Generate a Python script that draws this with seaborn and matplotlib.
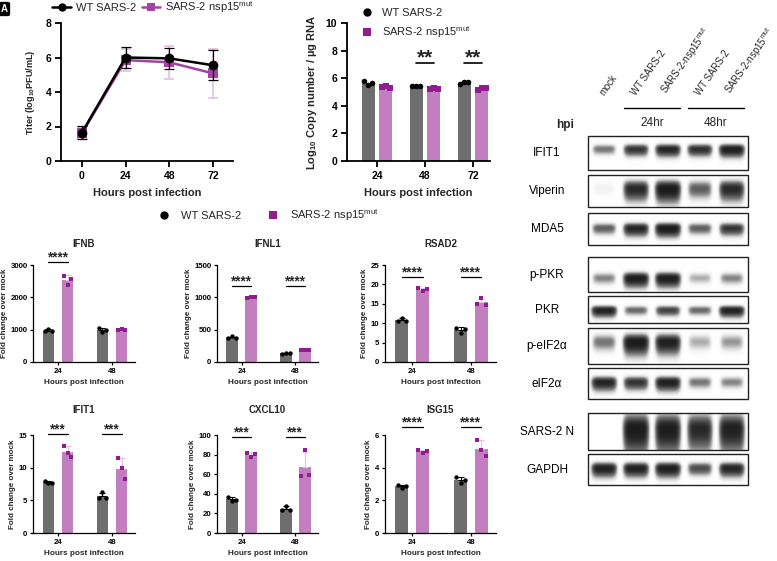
import numpy as np
import pandas as pd
import matplotlib
matplotlib.use("Agg")
import matplotlib.pyplot as plt
from matplotlib.lines import Line2D
from matplotlib.patches import Rectangle
import seaborn as sns

# ---------------- data ----------------
titer_hours = [0, 24, 48, 72]
titer_wt = [1.65, 6.0, 5.95, 5.55]
titer_wt_sd = [0.38, 0.6, 0.6, 0.87]
titer_mut = [1.6, 5.85, 5.72, 5.08]
titer_mut_sd = [0.3, 0.62, 0.97, 1.4]

cn_hours = ["24", "48", "72"]
cn_wt = [[5.8, 5.5, 5.65], [5.4, 5.45, 5.45], [5.55, 5.7, 5.75]]
cn_mut = [[5.35, 5.4, 5.3], [5.25, 5.3, 5.25], [5.15, 5.3, 5.3]]
cn_sig_hours = ["48", "72"]

gene_hours = ["24", "48"]
genes = ["IFNB", "IFNL1", "RSAD2", "IFIT1", "CXCL10", "ISG15"]
IFNB_wt = [[950, 1020, 950], [1040, 930, 990]]
IFNB_mut = [[2670, 2385, 2580], [990, 1030, 1000]]
IFNL1_wt = [[375, 395, 372], [130, 140, 138]]
IFNL1_mut = [[995, 1000, 998], [178, 182, 178]]
RSAD2_wt = [[10.5, 11.4, 10.6], [8.8, 7.4, 8.4]]
RSAD2_mut = [[19.0, 18.2, 18.8], [15.0, 16.4, 14.8]]
IFIT1_wt = [[7.9, 7.6, 7.7], [5.4, 6.2, 5.4]]
IFIT1_mut = [[13.3, 12.3, 11.7], [11.5, 9.9, 8.2]]
CXCL10_wt = [[37, 33, 34], [23, 28, 23]]
CXCL10_mut = [[82, 77.5, 80.5], [58, 85, 59]]
ISG15_wt = [[2.93, 2.75, 2.87], [3.45, 3.05, 3.25]]
ISG15_mut = [[5.1, 4.9, 5.0], [5.7, 5.1, 4.7]]
gene_ymax = [3000, 1500, 25, 15, 100, 6]
gene_ystep = [1000, 500, 5, 5, 20, 2]
gene_sig_y = [3100, 1180, 22, 15.2, 98, 6.5]
gene_stars = ["****", "****", "****", "***", "***", "****"]
gene_sig_hours = [["24"], ["24", "48"], ["24", "48"], ["24", "48"], ["24", "48"], ["24", "48"]]

blot_lanes = ["mock", "WT SARS-2", "SARS-2-nsp15$^{mut}$", "WT SARS-2", "SARS-2-nsp15$^{mut}$"]
blot_names = ["IFIT1", "Viperin", "MDA5", "p-PKR", "PKR", "p-eIF2\u03b1", "eIF2\u03b1", "SARS-2 N", "GAPDH"]
IFIT1_band = [0.35, 0.7, 0.85, 0.75, 0.95]
Viperin_band = [0.04, 0.8, 1.0, 0.45, 0.8]
MDA5_band = [0.45, 0.85, 1.0, 0.45, 0.7]
pPKR_band = [0.3, 0.95, 0.95, 0.2, 0.3]
PKR_band = [0.9, 0.4, 0.6, 0.4, 0.9]
peIF2a_band = [0.35, 1.0, 0.9, 0.2, 0.25]
eIF2a_band = [0.85, 0.7, 0.9, 0.35, 0.3]
N_band = [0.0, 1.0, 0.95, 0.8, 0.9]
GAPDH_band = [0.9, 0.9, 0.95, 0.55, 0.85]

# ---------------- style ----------------
sns.set_theme(style="ticks")
plt.rcParams["font.family"] = ["Liberation Sans", "DejaVu Sans"]
plt.rcParams["mathtext.default"] = "regular"

WT_BAR = "#6e6e6e"
MUT_BAR = "#c27fc0"
WT_PT = "#000000"
MUT_PT = "#901c90"
MUT_ERR = "#e6bde5"
MUT_LINE = "#a242a2"

W, H = 777, 561
fig = plt.figure(figsize=(W / 100, H / 100), dpi=100)


def rect(l, t, r, b):
    return [l / W, 1 - b / H, (r - l) / W, (b - t) / H]


def style_axes(ax, lw, tlen, tsize, pad):
    sns.despine(ax=ax)
    for s in ("left", "bottom"):
        ax.spines[s].set_linewidth(lw)
        ax.spines[s].set_color("black")
    ax.tick_params(axis="both", length=tlen, width=lw, labelsize=tsize, pad=pad,
                   color="black", labelcolor="black", direction="out")
    for lab in ax.get_xticklabels() + ax.get_yticklabels():
        lab.set_fontweight("bold")
    ax.set_facecolor("none")


# ---------------- panel: titer ----------------
ax1 = fig.add_axes(rect(61, 23, 233, 161))
df_t = pd.DataFrame({
    "hour": titer_hours * 2,
    "titer": titer_mut + titer_wt,
    "strain": ["mut"] * 4 + ["WT"] * 4,
})
ax1.errorbar(titer_hours, titer_mut, yerr=titer_mut_sd, fmt="none", ecolor=MUT_ERR,
             elinewidth=1.2, capsize=3.5, capthick=1.2, zorder=2)
sns.lineplot(data=df_t, x="hour", y="titer", hue="strain", style="strain",
             palette={"WT": "black", "mut": MUT_LINE}, markers={"WT": "o", "mut": "s"},
             dashes=False, markersize=7, linewidth=1.8, markeredgewidth=0,
             legend=False, ax=ax1, zorder=3)
ax1.errorbar(titer_hours, titer_wt, yerr=titer_wt_sd, fmt="none", ecolor="black",
             elinewidth=0.9, capsize=3.5, capthick=0.9, zorder=4)
ax1.set_xlim(-11.5, 83)
ax1.set_ylim(0, 8)
ax1.set_xticks(titer_hours)
ax1.set_yticks([0, 2, 4, 6, 8])
style_axes(ax1, 1.3, 4, 7.5, 3)
ax1.set_xlabel("Hours post infection", fontsize=8, fontweight="bold", labelpad=5)
ax1.set_ylabel("Titer (log$_{10}$PFU/mL)", fontsize=6.6, fontweight="bold", labelpad=6)
h1 = [Line2D([0], [0], color="black", marker="o", lw=1.8, ms=6, mew=0),
      Line2D([0], [0], color=MUT_LINE, marker="s", lw=1.8, ms=6, mew=0)]
ax1.legend(h1, ["WT SARS-2", "SARS-2 nsp15$^{mut}$"], loc="center left",
           bbox_to_anchor=(-0.05, 1.115), ncol=2, frameon=False, fontsize=8,
           handlelength=1.7, handletextpad=0.4, columnspacing=0.5, borderpad=0,
           borderaxespad=0)

# ---------------- panel: copy number ----------------
ax2 = fig.add_axes(rect(347, 23, 490, 161))
rows = []
for i, h in enumerate(cn_hours):
    for v in cn_wt[i]:
        rows.append((h, "WT", v))
    for v in cn_mut[i]:
        rows.append((h, "mut", v))
df_cn = pd.DataFrame(rows, columns=["hour", "strain", "value"])
sns.barplot(data=df_cn, x="hour", y="value", hue="strain", order=cn_hours,
            hue_order=["WT", "mut"], palette={"WT": WT_BAR, "mut": MUT_BAR},
            errorbar=None, width=0.72, gap=0.25, saturation=1, legend=False,
            linewidth=0, ax=ax2)
centers = {}
for k, (cont, reps, col, mk) in enumerate(zip(ax2.containers, [cn_wt, cn_mut],
                                              [WT_PT, MUT_PT], ["o", "s"])):
    for i, p in enumerate(cont.patches):
        cx = p.get_x() + p.get_width() / 2
        centers[(k, i)] = cx
        offs = np.array([-0.3, 0.0, 0.3]) * p.get_width()
        ax2.scatter(cx + offs, reps[i], marker=mk, s=16, color=col, linewidths=0, zorder=4)
for h in cn_sig_hours:
    i = cn_hours.index(h)
    x0, x1 = centers[(0, i)], centers[(1, i)]
    ax2.plot([x0, x1], [7.1, 7.1], color="black", lw=1.2, clip_on=False)
    ax2.text((x0 + x1) / 2, 7.05, "**", ha="center", va="baseline", fontsize=15,
             fontweight="bold")
ax2.set_xlim(-0.625, 2.354)
ax2.set_ylim(0, 10)
ax2.set_yticks([0, 2, 4, 6, 8, 10])
style_axes(ax2, 1.3, 4, 7.5, 3)
ax2.set_xlabel("Hours post infection", fontsize=8, fontweight="bold", labelpad=5)
ax2.set_ylabel("Log$_{10}$ Copy number / \u00b5g RNA", fontsize=8, fontweight="bold", labelpad=5)
h2 = [Line2D([0], [0], color="black", marker="o", lw=0, ms=6, mew=0),
      Line2D([0], [0], color=MUT_PT, marker="s", lw=0, ms=6, mew=0)]
ax2.legend(h2, ["WT SARS-2", "SARS-2 nsp15$^{mut}$"], loc="center left",
           bbox_to_anchor=(0.10, 0.993), frameon=False, fontsize=8, handlelength=1.0,
           handletextpad=0.85, labelspacing=0.62, borderpad=0, borderaxespad=0)

# ---------------- middle legend ----------------
hm = [Line2D([0], [0], color="black", marker="o", lw=0, ms=6, mew=0),
      Line2D([0], [0], color=MUT_PT, marker="s", lw=0, ms=6, mew=0)]
fig.legend(hm, ["WT SARS-2", "SARS-2 nsp15$^{mut}$"], loc="center left",
           bbox_to_anchor=(158 / W, 1 - 215 / H), ncol=2, frameon=False, fontsize=8,
           handlelength=1.0, handletextpad=1.1, columnspacing=2.3, borderpad=0,
           borderaxespad=0)

# ---------------- gene panels ----------------
gene_data = {
    "IFNB": (IFNB_wt, IFNB_mut), "IFNL1": (IFNL1_wt, IFNL1_mut),
    "RSAD2": (RSAD2_wt, RSAD2_mut), "IFIT1": (IFIT1_wt, IFIT1_mut),
    "CXCL10": (CXCL10_wt, CXCL10_mut), "ISG15": (ISG15_wt, ISG15_mut),
}
col_px = [(33, 135), (217, 318), (385, 496)]
row_px = [(265, 362), (435, 533)]
title_px = [244, 410]

for gi, g in enumerate(genes):
    r, c = divmod(gi, 3)
    (l, rr), (t, b) = col_px[c], row_px[r]
    ax = fig.add_axes(rect(l, t, rr, b))
    wt, mut = gene_data[g]
    rows = []
    for i, h in enumerate(gene_hours):
        for v in wt[i]:
            rows.append((h, "WT", v))
        for v in mut[i]:
            rows.append((h, "mut", v))
    dfg = pd.DataFrame(rows, columns=["hour", "strain", "value"])
    sns.barplot(data=dfg, x="hour", y="value", hue="strain", order=gene_hours,
                hue_order=["WT", "mut"], palette={"WT": WT_BAR, "mut": MUT_BAR},
                errorbar=None, width=0.704, gap=0.375, saturation=1, legend=False,
                linewidth=0, ax=ax)
    cen = {}
    for k, (cont, reps, col, mk, ec) in enumerate(zip(
            ax.containers, [wt, mut], [WT_PT, MUT_PT], ["o", "s"], ["black", MUT_ERR])):
        for i, p in enumerate(cont.patches):
            cx = p.get_x() + p.get_width() / 2
            cen[(k, i)] = cx
            sd = np.std(reps[i], ddof=1)
            ax.errorbar([cx], [p.get_height()], yerr=[[0], [sd]], fmt="none", ecolor=ec,
                        elinewidth=0.8, capsize=2.2, capthick=0.8, zorder=3)
            offs = np.array([-0.33, 0.0, 0.33]) * p.get_width()
            ax.scatter(cx + offs, reps[i], marker=mk, s=10, color=col, linewidths=0, zorder=4)
    for h in gene_sig_hours[gi]:
        i = gene_hours.index(h)
        x0, x1 = cen[(0, i)], cen[(1, i)]
        ax.plot([x0, x1], [gene_sig_y[gi]] * 2, color="black", lw=0.9, clip_on=False)
        ax.text((x0 + x1) / 2, gene_sig_y[gi], gene_stars[gi], ha="center", va="baseline",
                fontsize=9.8, fontweight="bold", clip_on=False)
    ax.set_xlim(-0.463, 1.426)
    ax.set_ylim(0, gene_ymax[gi])
    ax.set_yticks(np.arange(0, gene_ymax[gi] + 0.01, gene_ystep[gi]))
    style_axes(ax, 0.9, 2.5, 5.6, 1.5)
    ax.set_xlabel("Hours post infection", fontsize=5.9, fontweight="bold", labelpad=3)
    ax.set_ylabel("Fold change over mock", fontsize=5.8, fontweight="bold", labelpad=2)
    ax.text(0.5, 1 + (t - title_px[r]) / (b - t), g, transform=ax.transAxes,
            ha="center", va="center", fontsize=7, fontweight="bold")

# ---------------- western blot ----------------
axw = fig.add_axes([0, 0, 1, 1], zorder=-1)
axw.set_xlim(0, W)
axw.set_ylim(H, 0)
axw.axis("off")
blot_bands = [IFIT1_band, Viperin_band, MDA5_band, pPKR_band, PKR_band,
              peIF2a_band, eIF2a_band, N_band, GAPDH_band]
box_l, box_r = 588, 748
box_tb = [(136, 170), (175, 207), (213, 245), (257, 292), (296, 323),
          (328, 364), (368, 399), (413, 450), (454, 485)]
band_y = [0.38, 0.42, 0.47, 0.6, 0.52, 0.38, 0.45, 0.42, 0.45]
band_sig = [0.08, 0.14, 0.09, 0.09, 0.09, 0.12, 0.1, 0.22, 0.1]
nl = len(blot_lanes)
xs = np.linspace(0, nl, 400)
ys = np.linspace(0, 1, 80)
X, Y = np.meshgrid(xs, ys)
for bi, name in enumerate(blot_names):
    t, b = box_tb[bi]
    img = np.zeros_like(X)
    for li, v in enumerate(blot_bands[bi]):
        hw = 0.33 + 0.05 * v
        hprof = np.exp(-np.abs((X - (li + 0.5)) / hw) ** 6)
        sig = np.where(Y > band_y[bi], band_sig[bi] * (1.0 + 0.9 * v), band_sig[bi])
        vprof = np.exp(-0.5 * ((Y - band_y[bi]) / sig) ** 2)
        img += v * hprof * vprof
    img = 1 - np.exp(-3.0 * img)
    axw.imshow(img, extent=(box_l, box_r, b, t), cmap="Greys", vmin=0, vmax=1.05,
               aspect="auto", interpolation="bilinear", zorder=1)
    axw.add_patch(Rectangle((box_l, t), box_r - box_l, b - t, fill=False, lw=1.0,
                            ec="#222222", zorder=2))
    axw.text(547, (t + b) / 2, name, ha="center", va="center", fontsize=8.5, color="black")
axw.set_xlim(0, W)
axw.set_ylim(H, 0)
lane_w = (box_r - box_l) / nl
for li, lab in enumerate(blot_lanes):
    cx = box_l + lane_w * (li + 0.5)
    axw.text(cx + 2, 97, lab, rotation=55, rotation_mode="anchor", ha="left",
             va="bottom", fontsize=6.9)
axw.text(565, 125, "hpi", ha="center", va="center", fontsize=8.5, fontweight="bold")
for gi2, lab in enumerate(["24hr", "48hr"]):
    x0 = box_l + lane_w * (1 + 2 * gi2) + 4
    x1 = box_l + lane_w * (3 + 2 * gi2) - 4
    axw.plot([x0, x1], [108, 108], color="black", lw=1.0)
    axw.text((x0 + x1) / 2, 123, lab, ha="center", va="center", fontsize=8.5)

# panel letter
fig.text(1 / W, 1 - 9 / H, "A", fontsize=7, fontweight="bold", color="white",
         ha="left", va="center",
         bbox=dict(boxstyle="round,pad=0.15", fc="black", ec="black"))

fig.savefig("out.png", dpi=100)
